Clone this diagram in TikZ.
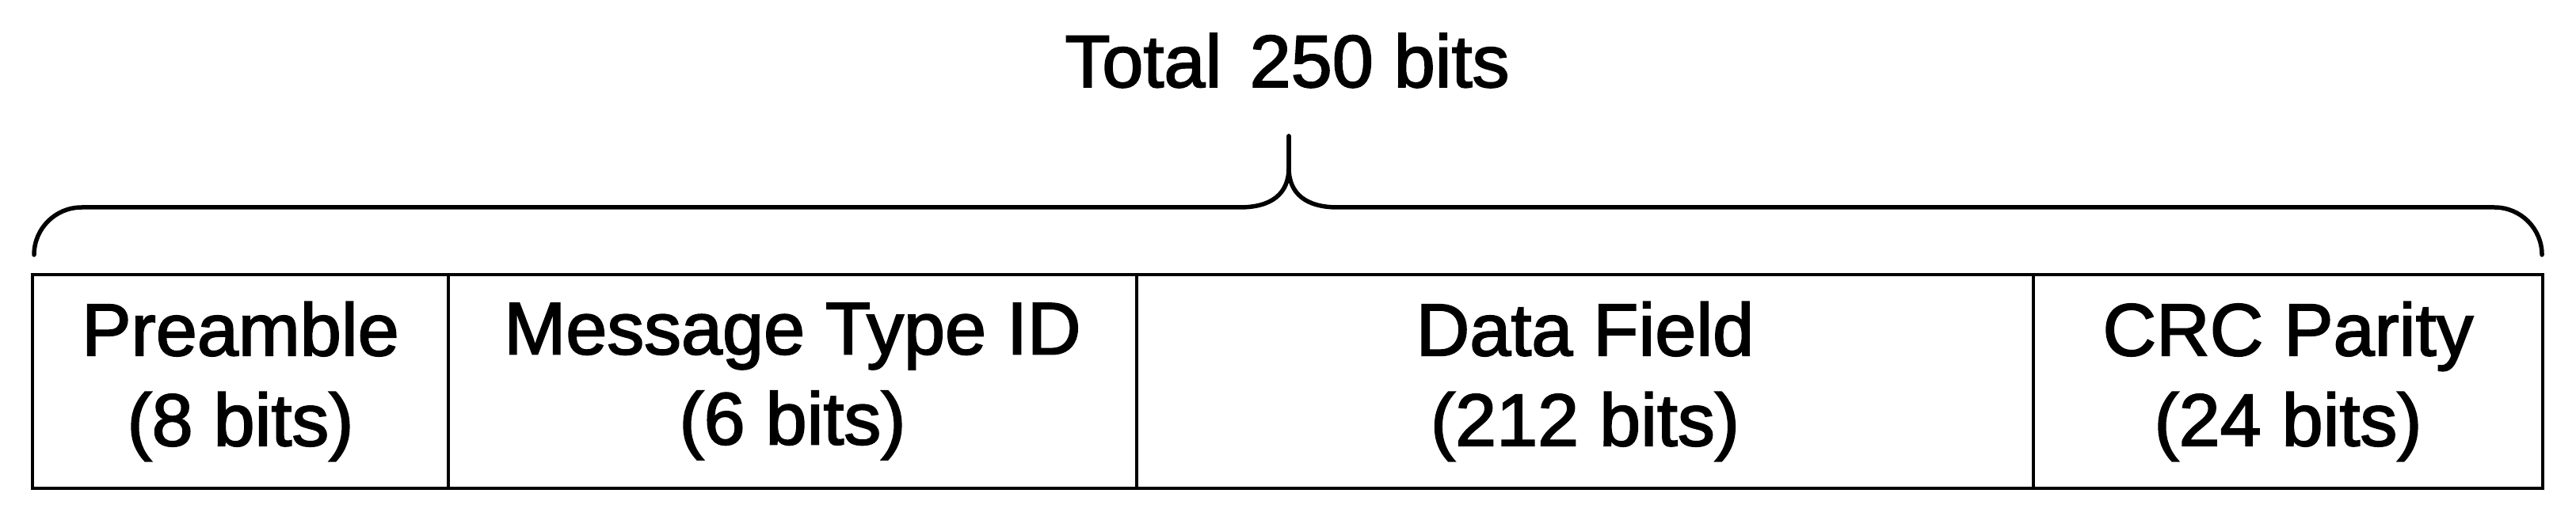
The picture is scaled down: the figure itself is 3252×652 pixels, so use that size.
\documentclass[tikz,border=0pt]{standalone}
\usepackage{fontspec}
\setmainfont{Liberation Sans}[FakeBold=2]
\begin{document}
\begin{tikzpicture}[x=1pt,y=-1pt,
  cell/.style={draw=black,line width=4pt,minimum height=270pt,inner sep=0pt,align=center,
    font=\fontsize{93.6}{114}\selectfont},
  bracestyle/.style={line width=5.5pt,line cap=round,line join=round}]
\useasboundingbox (0,0) rectangle (3252,652);
\node[cell,minimum width=525pt] (pre) at (303.5,482) {Preamble\\(8 bits)};
\node[cell,minimum width=869pt] (mti) at (1000.5,482) {Message Type ID\\(6 bits)};
\node[cell,minimum width=1132pt] (data) at (2001,482) {Data Field\\(212 bits)};
\node[cell,minimum width=643pt] (crc) at (2888.5,482) {CRC Parity\\(24 bits)};
\node[font=\fontsize{93.6}{114}\selectfont,anchor=base] (total) at (1625,110) {Total\hspace{0.38em}250 bits};
\coordinate (bl) at (43,322);
\coordinate (br) at (3209,322);
\coordinate (tip) at (1627,172);
\draw[bracestyle] (bl) arc[start angle=180,end angle=270,radius=60] -- (1565,262)
  .. controls (1605,262) and (1627,245) .. (1627,212) -- (tip);
\draw[bracestyle] (tip) -- (1627,212) .. controls (1627,245) and (1649,262) .. (1689,262)
  -- (3149,262) arc[start angle=270,end angle=360,radius=60] -- (br);
\end{tikzpicture}
\end{document}
